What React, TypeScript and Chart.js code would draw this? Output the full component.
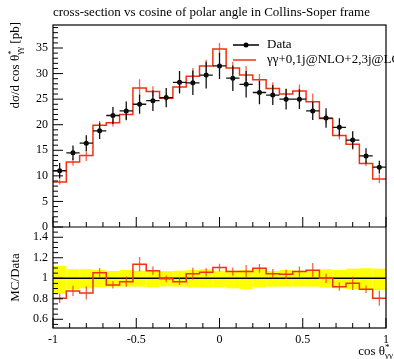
import { useEffect, useRef } from "react";
import { Chart, registerables } from "chart.js";

Chart.register(...registerables);

// ---- data ----
const binEdges = [-1, -0.92, -0.84, -0.76, -0.68, -0.6, -0.52, -0.44, -0.36, -0.28, -0.2, -0.12, -0.04, 0.04, 0.12, 0.2, 0.28, 0.36, 0.44, 0.52, 0.6, 0.68, 0.76, 0.84, 0.92, 1];
const dataVals = [11.0, 14.5, 16.4, 18.8, 21.8, 22.7, 24.0, 24.7, 25.3, 28.3, 28.2, 29.7, 31.5, 29.1, 27.9, 26.3, 25.8, 25.0, 25.0, 22.7, 21.3, 19.5, 17.0, 13.9, 11.7];
const dataErr = [1.5, 1.42, 1.53, 1.6, 1.67, 1.84, 1.87, 2.0, 1.9, 2.2, 2.4, 2.6, 2.55, 2.5, 2.6, 2.3, 1.96, 2.0, 1.95, 1.8, 1.9, 1.75, 1.7, 1.49, 1.25];
const mcVals = [8.8, 12.7, 14.0, 19.9, 20.4, 22.0, 27.2, 26.5, 25.2, 27.4, 29.5, 31.5, 34.8, 31.1, 29.7, 28.8, 27.1, 26.0, 26.6, 24.5, 21.2, 17.9, 16.2, 12.4, 9.4];
const mcErr = [0.5, 0.73, 1.07, 0.85, 0.76, 1.1, 1.7, 1.0, 0.83, 0.93, 1.6, 1.2, 1.2, 1.2, 1.8, 1.1, 1.2, 1.1, 1.25, 1.6, 0.96, 0.78, 1.1, 0.5, 0.85];
const ratioVals = [0.805, 0.876, 0.857, 1.055, 0.935, 0.967, 1.137, 1.074, 0.995, 0.967, 1.045, 1.058, 1.104, 1.065, 1.065, 1.097, 1.045, 1.039, 1.065, 1.078, 1.0, 0.918, 0.951, 0.893, 0.805];
const ratioErr = [0.045, 0.05, 0.065, 0.045, 0.035, 0.05, 0.07, 0.04, 0.033, 0.033, 0.057, 0.04, 0.037, 0.04, 0.065, 0.042, 0.045, 0.045, 0.05, 0.07, 0.045, 0.04, 0.065, 0.036, 0.073];
const bandHi = [1.12, 1.088, 1.088, 1.081, 1.071, 1.081, 1.074, 1.074, 1.07, 1.074, 1.08, 1.088, 1.074, 1.074, 1.081, 1.088, 1.07, 1.081, 1.074, 1.081, 1.088, 1.081, 1.094, 1.097, 1.094];
const bandLo = [0.847, 0.893, 0.902, 0.912, 0.918, 0.918, 0.918, 0.912, 0.92, 0.918, 0.91, 0.908, 0.912, 0.902, 0.893, 0.912, 0.918, 0.918, 0.918, 0.918, 0.908, 0.902, 0.893, 0.883, 0.883];

const titleText = "cross-section vs cosine of polar angle in Collins-Soper frame";
const legendData = "Data";
const legendMC = "γγ+0,1j@NLO+2,3j@LO";

const FONT = '"Liberation Serif", "DejaVu Serif", serif';
const RED = "#ee3311";
const RED_ERR = "rgba(238,51,17,0.75)";

function centersOf(edges: number[]) {
  return edges.slice(0, -1).map((e, i) => (e + edges[i + 1]) / 2);
}
function stepPts(vals: number[]) {
  const pts = vals.map((v, i) => ({ x: binEdges[i], y: v }));
  pts.push({ x: binEdges[binEdges.length - 1], y: vals[vals.length - 1] });
  return pts;
}

type Part = { t: string; size: number; dy: number; stackWithPrev?: boolean };

function measureParts(ctx: CanvasRenderingContext2D, parts: Part[]) {
  let w = 0;
  let prevW = 0;
  for (const p of parts) {
    ctx.font = `${p.size}px ${FONT}`;
    const pw = ctx.measureText(p.t).width;
    if (p.stackWithPrev) {
      w += Math.max(0, pw - prevW);
      prevW = Math.max(pw, prevW);
    } else {
      w += pw;
      prevW = pw;
    }
  }
  return w;
}
function drawParts(ctx: CanvasRenderingContext2D, parts: Part[], x: number, y: number) {
  let cx = x;
  let lastStart = x;
  let prevW = 0;
  for (const p of parts) {
    ctx.font = `${p.size}px ${FONT}`;
    const pw = ctx.measureText(p.t).width;
    if (p.stackWithPrev) {
      ctx.fillText(p.t, lastStart, y + p.dy);
      cx = lastStart + Math.max(pw, prevW);
      prevW = Math.max(pw, prevW);
    } else {
      lastStart = cx;
      ctx.fillText(p.t, cx, y + p.dy);
      cx += pw;
      prevW = pw;
    }
  }
}

const decor = {
  id: "decor",
  beforeDatasetsDraw(chart: any) {
    const { ctx, chartArea: a, scales } = chart;
    const x = scales.x, y = scales.y, yr = scales.yr;
    const centers = centersOf(binEdges);
    ctx.save();
    // yellow band
    ctx.fillStyle = "#ffff00";
    for (let i = 0; i < bandHi.length; i++) {
      const x0 = x.getPixelForValue(binEdges[i]);
      const x1 = x.getPixelForValue(binEdges[i + 1]);
      const t = yr.getPixelForValue(bandHi[i]);
      const b = yr.getPixelForValue(bandLo[i]);
      ctx.fillRect(x0, t, x1 - x0, b - t);
    }
    // line at 1
    ctx.strokeStyle = "#000";
    ctx.lineWidth = 1.3;
    ctx.beginPath();
    const y1 = yr.getPixelForValue(1);
    ctx.moveTo(a.left, y1);
    ctx.lineTo(a.right, y1);
    ctx.stroke();
    // MC error bars
    ctx.strokeStyle = RED_ERR;
    ctx.lineWidth = 1.3;
    ctx.beginPath();
    for (let i = 0; i < centers.length; i++) {
      const px = x.getPixelForValue(centers[i]);
      ctx.moveTo(px, y.getPixelForValue(mcVals[i] - mcErr[i]));
      ctx.lineTo(px, y.getPixelForValue(mcVals[i] + mcErr[i]));
      ctx.moveTo(px, yr.getPixelForValue(ratioVals[i] - ratioErr[i]));
      ctx.lineTo(px, yr.getPixelForValue(ratioVals[i] + ratioErr[i]));
    }
    ctx.stroke();
    ctx.restore();
  },
  afterDatasetsDraw(chart: any) {
    const { ctx, chartArea: a, scales } = chart;
    const x = scales.x, y = scales.y, yr = scales.yr;
    const centers = centersOf(binEdges);
    ctx.save();
    // data error bars
    ctx.strokeStyle = "#111";
    ctx.lineWidth = 1.3;
    ctx.beginPath();
    for (let i = 0; i < centers.length; i++) {
      const px = x.getPixelForValue(centers[i]);
      const py = y.getPixelForValue(dataVals[i]);
      ctx.moveTo(px, y.getPixelForValue(dataVals[i] - dataErr[i]));
      ctx.lineTo(px, y.getPixelForValue(dataVals[i] + dataErr[i]));
      ctx.moveTo(x.getPixelForValue(binEdges[i]), py);
      ctx.lineTo(x.getPixelForValue(binEdges[i + 1]), py);
    }
    ctx.stroke();

    // frame
    const mid = y.getPixelForValue(0);
    ctx.strokeStyle = "#000";
    ctx.lineWidth = 1.2;
    ctx.strokeRect(a.left, a.top, a.right - a.left, a.bottom - a.top);
    ctx.beginPath();
    ctx.moveTo(a.left, mid);
    ctx.lineTo(a.right, mid);
    ctx.stroke();

    // ticks
    ctx.lineWidth = 1;
    ctx.beginPath();
    for (let v = 0; v <= 39; v++) {
      const py = y.getPixelForValue(v);
      const len = v % 5 === 0 ? 10 : 5;
      ctx.moveTo(a.left, py);
      ctx.lineTo(a.left + len, py);
    }
    for (let k = 11; k <= 29; k++) {
      const py = yr.getPixelForValue(k * 0.05);
      const len = k % 4 === 0 ? 10 : 5;
      ctx.moveTo(a.left, py);
      ctx.lineTo(a.left + len, py);
    }
    for (let k = -10; k <= 10; k++) {
      const px = x.getPixelForValue(k / 10);
      const len = k % 5 === 0 ? 10 : 5;
      ctx.moveTo(px, mid);
      ctx.lineTo(px, mid - len);
      ctx.moveTo(px, a.bottom);
      ctx.lineTo(px, a.bottom - len);
    }
    ctx.stroke();

    // title
    ctx.fillStyle = "#000";
    ctx.textBaseline = "alphabetic";
    ctx.textAlign = "left";
    ctx.font = `13px ${FONT}`;
    ctx.fillText(titleText, a.left, 16);

    // legend
    ctx.strokeStyle = "#000";
    ctx.lineWidth = 1.5;
    ctx.beginPath();
    ctx.moveTo(233, 45);
    ctx.lineTo(259, 45);
    ctx.stroke();
    ctx.beginPath();
    ctx.arc(246, 45, 2.5, 0, Math.PI * 2);
    ctx.fillStyle = "#000";
    ctx.fill();
    ctx.strokeStyle = RED;
    ctx.beginPath();
    ctx.moveTo(233, 60);
    ctx.lineTo(256, 60);
    ctx.stroke();
    ctx.fillStyle = "#000";
    ctx.font = `13px ${FONT}`;
    ctx.textBaseline = "middle";
    ctx.fillText(legendData, 267, 45);
    ctx.fillText(legendMC, 267, 60);

    // y-axis title (top panel)
    ctx.textBaseline = "alphabetic";
    const yParts: Part[] = [
      { t: "dσ/d cos θ", size: 13, dy: 0 },
      { t: "*", size: 9, dy: -5 },
      { t: "γγ", size: 9, dy: 3, stackWithPrev: true },
      { t: " [pb]", size: 13, dy: 0 },
    ];
    const yw = measureParts(ctx, yParts);
    ctx.save();
    ctx.translate(18.5, 22);
    ctx.rotate(-Math.PI / 2);
    drawParts(ctx, yParts, -yw, 0);
    ctx.restore();

    // ratio y-axis title
    ctx.save();
    ctx.font = `13px ${FONT}`;
    ctx.translate(19, (yr.top + yr.bottom) / 2);
    ctx.rotate(-Math.PI / 2);
    ctx.textAlign = "center";
    ctx.fillText("MC/Data", 0, 0);
    ctx.restore();

    // x-axis title
    const xParts: Part[] = [
      { t: "cos θ", size: 13, dy: 0 },
      { t: "*", size: 9, dy: -5 },
      { t: "γγ", size: 9, dy: 3, stackWithPrev: true },
    ];
    const xw = measureParts(ctx, xParts);
    ctx.textAlign = "left";
    drawParts(ctx, xParts, 393 - xw, 355);
    ctx.restore();
  },
};

export default function App() {
  const ref = useRef<HTMLCanvasElement>(null);
  useEffect(() => {
    if (!ref.current) return;
    const centers = centersOf(binEdges);
    const tickFont = { family: FONT, size: 12 };
    const fmt = (v: any) => String(Math.round(Number(v) * 100) / 100);
    const grid = { display: false, drawTicks: false };
    const chart = new Chart(ref.current, {
      type: "scatter",
      data: {
        datasets: [
          {
            label: legendData,
            data: centers.map((c, i) => ({ x: c, y: dataVals[i] })),
            pointRadius: 2.5,
            pointHoverRadius: 2.5,
            backgroundColor: "#000",
            borderColor: "#000",
            borderWidth: 0,
            yAxisID: "y",
          },
          {
            label: legendMC,
            type: "line",
            data: stepPts(mcVals),
            stepped: "before",
            borderColor: RED,
            borderWidth: 1.5,
            pointRadius: 0,
            fill: false,
            yAxisID: "y",
          },
          {
            label: "ratio",
            type: "line",
            data: stepPts(ratioVals),
            stepped: "before",
            borderColor: RED,
            borderWidth: 1.5,
            pointRadius: 0,
            fill: false,
            yAxisID: "yr",
          },
        ],
      } as any,
      options: {
        animation: false,
        responsive: false,
        devicePixelRatio: 1,
        layout: { padding: { top: 25, right: 3, left: 0, bottom: 0 } },
        plugins: { legend: { display: false }, tooltip: { enabled: false }, title: { display: false } },
        scales: {
          x: {
            type: "linear",
            position: "bottom",
            min: -1,
            max: 1,
            grid,
            border: { display: false },
            ticks: { stepSize: 0.5, includeBounds: false, padding: 5, color: "#000", font: tickFont, callback: fmt, maxRotation: 0, autoSkip: false },
            afterFit: (s: any) => { s.height = 31; },
          },
          yr: {
            type: "linear",
            position: "left",
            stack: "panels",
            stackWeight: 1,
            min: 0.515,
            max: 1.5,
            grid,
            border: { display: false },
            ticks: { stepSize: 0.2, includeBounds: false, autoSkip: false, padding: 5, color: "#000", font: tickFont, callback: fmt },
            afterFit: (s: any) => { s.width = 53; },
          },
          y: {
            type: "linear",
            position: "left",
            stack: "panels",
            stackWeight: 2,
            min: 0,
            max: 39.5,
            grid,
            border: { display: false },
            ticks: { stepSize: 5, includeBounds: false, autoSkip: false, padding: 5, color: "#000", font: tickFont, callback: fmt },
            afterFit: (s: any) => { s.width = 53; },
          },
        } as any,
      },
      plugins: [decor],
    });
    return () => chart.destroy();
  }, []);
  return (
    <div style={{ position: "absolute", left: 0, top: 0, width: 394, height: 359, background: "#fff" }}>
      <canvas ref={ref} width={394} height={359} style={{ display: "block" }} />
    </div>
  );
}
